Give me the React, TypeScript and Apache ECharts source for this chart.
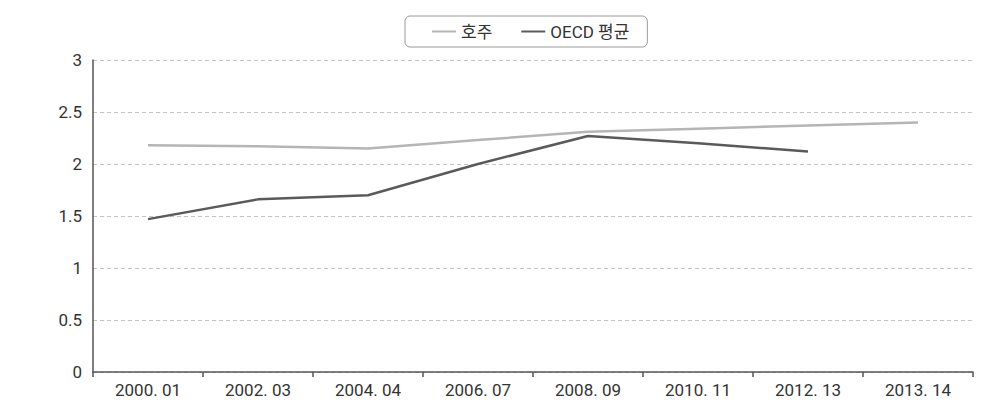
import React, { useEffect, useRef } from "react";
import * as echarts from "echarts";

const categories = ["2000. 01", "2002. 03", "2004. 04", "2006. 07", "2008. 09", "2010. 11", "2012. 13", "2013. 14"];
const australia = [2.18, 2.17, 2.15, 2.23, 2.31, 2.34, 2.37, 2.4];
const oecdAverage: (number | null)[] = [1.47, 1.66, 1.7, 2.0, 2.27, 2.2, 2.12, null];
const yTicks = { min: 0, max: 3, interval: 0.5 };

const FONT = "Roboto, 'Noto Sans CJK KR', sans-serif";

export default function App() {
  const ref = useRef<HTMLDivElement>(null);
  useEffect(() => {
    if (!ref.current) return;
    const chart = echarts.init(ref.current, undefined, { renderer: "svg" });
    chart.setOption({
      animation: false,
      textStyle: { fontFamily: FONT },
      legend: {
        left: 405,
        top: 16,
        padding: [7, 18, 7, 27],
        borderColor: "#9a9a9a",
        borderWidth: 1,
        borderRadius: 5,
        itemWidth: 24,
        itemHeight: 2,
        itemGap: 29,
        icon: "rect",
        textStyle: { fontFamily: FONT, fontSize: 17, color: "#333" },
        data: ["호주", "OECD 평균"],
      },
      grid: { left: 93, right: 35, top: 60, bottom: 35, containLabel: false },
      xAxis: {
        type: "category",
        data: categories,
        boundaryGap: true,
        axisLine: { lineStyle: { color: "#555", width: 1.5 } },
        axisTick: { show: true, length: 5, lineStyle: { color: "#555", width: 1.5 } },
        axisLabel: { fontFamily: FONT, fontSize: 17, color: "#333", margin: 9 },
      },
      yAxis: {
        type: "value",
        min: yTicks.min,
        max: yTicks.max,
        interval: yTicks.interval,
        axisLine: { show: true, lineStyle: { color: "#555", width: 1.5 } },
        axisTick: { show: false },
        axisLabel: { fontFamily: FONT, fontSize: 17, color: "#333", margin: 11 },
        splitLine: { show: true, lineStyle: { color: "#c4c4c4", type: [4, 3], width: 1 } },
      },
      series: [
        {
          name: "호주",
          type: "line",
          data: australia,
          showSymbol: false,
          symbol: "none",
          itemStyle: { color: "#b5b5b5" },
          lineStyle: { color: "#b5b5b5", width: 2.5 },
        },
        {
          name: "OECD 평균",
          type: "line",
          data: oecdAverage,
          showSymbol: false,
          symbol: "none",
          itemStyle: { color: "#5a5a5a" },
          lineStyle: { color: "#5a5a5a", width: 2.5 },
        },
      ],
    });
    return () => chart.dispose();
  }, []);
  return <div ref={ref} style={{ width: 1008, height: 407, marginLeft: -8, marginTop: -8 }} />;
}
